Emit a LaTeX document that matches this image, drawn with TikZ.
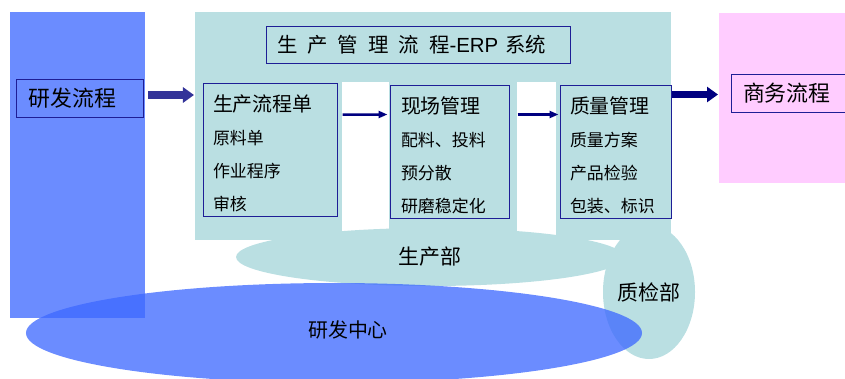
\documentclass[tikz,border=0pt]{standalone}
\usepackage{fontspec}
\setmainfont{Noto Sans CJK SC}
\newfontfamily\latinfont{Liberation Sans}
\usetikzlibrary{arrows.meta}
\usetikzlibrary{shapes.geometric}

\definecolor{bluebg}{RGB}{61,104,255}
\definecolor{tealbg}{RGB}{186,223,226}
\definecolor{pinkbg}{RGB}{255,204,255}
\definecolor{boxline}{RGB}{30,30,150}
\definecolor{navyarrow}{RGB}{0,0,128}
\definecolor{slatearrow}{RGB}{51,51,153}
\newcommand{\zsp}{\hspace{10bp}}
\newcommand{\headline}[1]{\rule{0pt}{24bp}{\fontsize{20}{33}\selectfont #1}}

\begin{document}
\begin{tikzpicture}[x=1bp,y=-1bp,
        area/.style={draw=none, inner sep=0pt, outer sep=0pt},
        dept/.style={ellipse, fill=tealbg, inner sep=0pt, font=\fontsize{21}{21}\selectfont},
        flowbox/.style={draw=boxline, line width=1bp, inner xsep=10bp, inner ysep=0pt, minimum height=133bp, align=left, font=\fontsize{17}{33}\selectfont},
        tagbox/.style={draw=boxline, line width=1bp, inner xsep=12bp, inner ysep=0pt, minimum height=38bp, align=left, font=\fontsize{22}{22}\selectfont},
        thinarrow/.style={draw=navyarrow, line width=2.5bp, -{Triangle[length=9bp,width=7bp]}},
        fatarrow/.style={line width=7.5bp, -{Triangle[length=11bp,width=15bp]}}]
    \path[use as bounding box, clip] (0,0) rectangle (845,378);

    % 生产部
    \node[area, fill=tealbg, minimum width=476bp, minimum height=228bp] (scbg) at (433,126) {};
    \fill[white] (342,82) rectangle (389,240);
    \fill[white] (517,82) rectangle (556,240);
    \node[dept, minimum width=388bp, minimum height=58bp] (scb) at (430,257) {生产部};
    \node[dept, minimum width=92bp, minimum height=134bp] (zjb) at (649,292) {质检部};

    % 商务
    \node[area, fill=pinkbg, minimum width=131bp, minimum height=170bp] (swbg) at (784.5,98) {};

    % 研发
    \node[area, fill=bluebg, fill opacity=0.76, minimum width=135bp, minimum height=306bp] (yfbg) at (77.5,165) {};
    \node[ellipse, fill=bluebg, fill opacity=0.76, inner sep=0pt, minimum width=616bp, minimum height=100bp] (yfzx) at (334,333) {};
    \node[font=\fontsize{20}{20}\selectfont] (yfzxtext) at (348,330) {研发中心};

    % 流程
    \node[tagbox, text width=102bp] (yflc) at (80,98.5) {研发流程};
    \node[tagbox, text width=95bp] (swlc) at (790.5,93) {商务流程};
    \node[tagbox, text width=282bp, inner xsep=11bp, minimum height=37bp, font=\fontsize{20.5}{21}\selectfont] (erp) at (418,44.5)
        {生\zsp 产\zsp 管\zsp 理\zsp 流\zsp 程{\latinfont -ERP}\hspace{7bp}系统};
    \node[flowbox, text width=114bp] (sclcd) at (270,149.5)
        {\headline{生产流程单}\\原料单\\作业程序\\审核};
    \node[flowbox, text width=97bp, inner xsep=11bp] (xcgl) at (449.5,151.5)
        {\headline{现场管理}\\配料、投料\\预分散\\研磨稳定化};
    \node[flowbox, text width=91bp] (zlgl) at (615.5,151.5)
        {\headline{质量管理}\\质量方案\\产品检验\\包装、标识};

    % 箭头
    \coordinate (a0) at ([yshift=3.5bp]yflc.east);
    \coordinate (a3) at ([yshift=-10bp]zlgl.north east);
    \draw[fatarrow, slatearrow, shorten <=3bp, shorten >=1bp] (a0 -| yfbg.east) -- (a0 -| scbg.west);
    \draw[thinarrow, shorten <=5bp, shorten >=2bp] ([yshift=-32bp]sclcd.north east) -- ([yshift=-30bp]xcgl.north west);
    \draw[thinarrow, shorten <=8bp, shorten >=1bp] ([yshift=-30bp]xcgl.north east) -- ([yshift=-30bp]zlgl.north west);
    \draw[fatarrow, navyarrow, shorten >=1bp] (a3) -- (a3 -| swbg.west);
\end{tikzpicture}
\end{document}
